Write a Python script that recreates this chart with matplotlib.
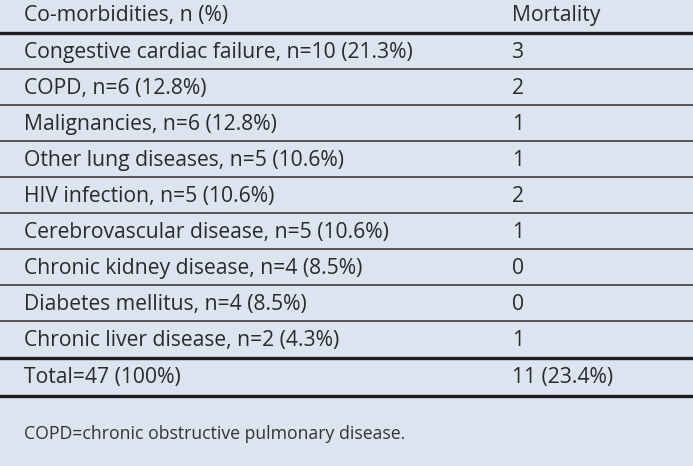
import matplotlib.pyplot as plt

comorbidities = [
    "Congestive cardiac failure, n=10 (21.3%)",
    "COPD, n=6 (12.8%)",
    "Malignancies, n=6 (12.8%)",
    "Other lung diseases, n=5 (10.6%)",
    "HIV infection, n=5 (10.6%)",
    "Cerebrovascular disease, n=5 (10.6%)",
    "Chronic kidney disease, n=4 (8.5%)",
    "Diabetes mellitus, n=4 (8.5%)",
    "Chronic liver disease, n=2 (4.3%)",
]
mortality = ["3", "2", "1", "1", "2", "1", "0", "0", "1"]
headers = ["Co-morbidities, n (%)", "Mortality"]
total_row = ["Total=47 (100%)", "11 (23.4%)"]
footnote = "COPD=chronic obstructive pulmonary disease."

bg = "#dce4f0"
text_color = "#2a2a2a"
W, H = 693, 466

fig = plt.figure(figsize=(W / 100, H / 100), dpi=100, facecolor=bg)
ax = fig.add_axes([0, 0, 1, 1])
ax.set_xlim(0, W)
ax.set_ylim(H, 0)
ax.axis("off")
ax.set_facecolor(bg)

font = dict(family="Open Sans", fontsize=15.2, color=text_color, va="center")
x_col1, x_col2 = 24, 512
row_h = 36
top_line = 33

ax.text(x_col1, 16, headers[0], **font)
ax.text(x_col2, 16, headers[1], **font)
ax.plot([0, W], [top_line, top_line], color="#1e1e1e", lw=2.4)

for i, (name, m) in enumerate(zip(comorbidities, mortality)):
    yc = top_line + row_h * i + row_h / 2 + 1.5
    ax.text(x_col1, yc, name, **font)
    ax.text(x_col2, yc, m, **font)
    y_line = top_line + row_h * (i + 1)
    if i < len(comorbidities) - 1:
        ax.plot([0, W], [y_line, y_line], color="#4a4a4a", lw=1.3)

y_thick = top_line + row_h * len(comorbidities) + 1
ax.plot([0, W], [y_thick, y_thick], color="#1e1e1e", lw=2.4)
y_total = y_thick + 20
ax.text(x_col1, y_total, total_row[0], **font)
ax.text(x_col2, y_total, total_row[1], **font)
ax.plot([0, W], [y_thick + 38, y_thick + 38], color="#1e1e1e", lw=2.4)

ax.text(x_col1, 434, footnote, family="Open Sans", fontsize=12.7,
        color="#333333", va="center")

fig.savefig("out.png", dpi=100, facecolor=bg)
